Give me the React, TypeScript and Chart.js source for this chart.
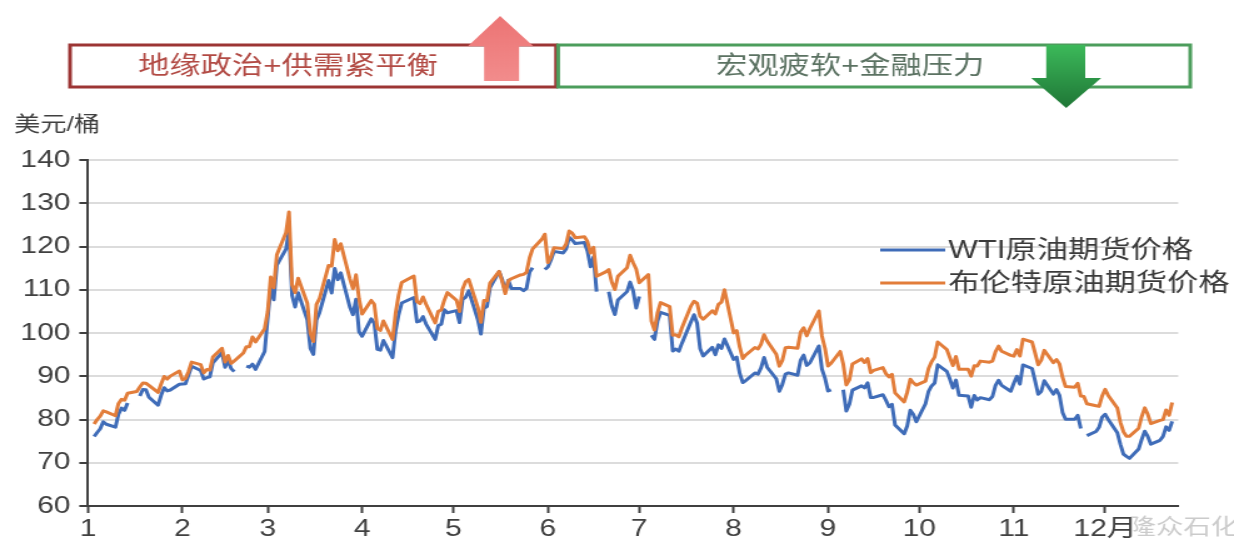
import React, { useEffect, useRef } from 'react';
import { Chart, registerables } from 'chart.js';

Chart.register(...registerables);

// ---------- data (2022, trading days) ----------
const dates: string[] = [
  '1/3','1/4','1/5','1/6','1/7','1/10','1/11','1/12','1/13','1/14','1/17','1/18','1/19','1/20','1/21','1/24','1/25','1/26','1/27','1/28','1/31',
  '2/1','2/2','2/3','2/4','2/7','2/8','2/9','2/10','2/11','2/14','2/15','2/16','2/17','2/18','2/21','2/22','2/23','2/24','2/25','2/28',
  '3/1','3/2','3/3','3/4','3/7','3/8','3/9','3/10','3/11','3/14','3/15','3/16','3/17','3/18','3/21','3/22','3/23','3/24','3/25','3/28','3/29','3/30','3/31',
  '4/1','4/4','4/5','4/6','4/7','4/8','4/11','4/12','4/13','4/14','4/18','4/19','4/20','4/21','4/22','4/25','4/26','4/27','4/28','4/29',
  '5/2','5/3','5/4','5/5','5/6','5/9','5/10','5/11','5/12','5/13','5/16','5/17','5/18','5/19','5/20','5/23','5/24','5/25','5/26','5/27','5/30','5/31',
  '6/1','6/2','6/3','6/6','6/7','6/8','6/9','6/10','6/13','6/14','6/15','6/16','6/17','6/20','6/21','6/22','6/23','6/24','6/27','6/28','6/29','6/30',
  '7/1','7/4','7/5','7/6','7/7','7/8','7/11','7/12','7/13','7/14','7/15','7/18','7/19','7/20','7/21','7/22','7/25','7/26','7/27','7/28','7/29',
  '8/1','8/2','8/3','8/4','8/5','8/8','8/9','8/10','8/11','8/12','8/15','8/16','8/17','8/18','8/19','8/22','8/23','8/24','8/25','8/26','8/29','8/30','8/31',
  '9/1','9/2','9/5','9/6','9/7','9/8','9/9','9/12','9/13','9/14','9/15','9/16','9/19','9/20','9/21','9/22','9/23','9/26','9/27','9/28','9/29','9/30',
  '10/3','10/4','10/5','10/6','10/7','10/10','10/11','10/12','10/13','10/14','10/17','10/18','10/19','10/20','10/21','10/24','10/25','10/26','10/27','10/28','10/31',
  '11/1','11/2','11/3','11/4','11/7','11/8','11/9','11/10','11/11','11/14','11/15','11/16','11/17','11/18','11/21','11/22','11/23','11/24','11/25','11/28','11/29','11/30',
  '12/1','12/2','12/5','12/6','12/7','12/8','12/9','12/12','12/13','12/14','12/15','12/16','12/19','12/20','12/21','12/22','12/23',
];

const wti: (number | null)[] = [
  76.08,76.99,77.85,79.46,78.90,78.23,81.22,82.64,82.12,83.82,null,85.43,86.96,86.90,85.14,83.31,85.60,87.35,86.61,86.82,88.15,
  88.20,88.26,90.27,92.31,91.32,89.36,89.66,89.88,93.10,95.46,92.07,93.66,91.76,91.07,null,92.35,92.10,92.81,91.59,95.72,
  103.41,110.60,107.67,115.68,119.40,123.70,108.70,106.02,109.33,103.01,96.44,95.04,102.98,104.70,112.12,109.27,114.93,112.34,113.90,105.96,104.24,107.82,100.28,
  99.27,103.28,102.28,96.23,96.03,98.26,94.29,100.60,104.25,106.95,108.21,102.56,102.75,103.79,102.07,98.54,101.70,102.02,105.36,104.69,
  105.17,102.41,107.81,108.26,109.77,103.09,99.76,105.71,106.13,110.49,114.20,112.40,109.59,112.21,110.28,110.29,109.77,110.33,114.09,115.07,null,114.67,
  115.26,116.87,118.87,118.50,119.41,122.11,121.51,120.67,120.93,118.93,115.31,117.59,109.56,null,109.52,106.19,104.27,107.62,109.57,111.76,109.78,105.76,
  108.43,null,99.50,98.53,102.73,104.79,104.09,95.84,96.30,95.78,97.59,102.60,104.22,102.26,96.35,94.70,96.70,94.98,97.26,96.42,98.62,
  93.89,94.42,90.66,88.54,89.01,90.76,90.50,91.93,94.34,92.09,89.41,86.53,88.11,90.50,90.77,90.23,93.74,94.89,92.52,93.06,97.01,91.64,89.55,
  86.61,86.87,null,86.88,81.94,83.54,86.79,87.78,87.31,88.48,85.10,85.11,85.73,84.45,82.94,83.49,78.74,76.71,78.50,82.15,81.23,79.49,
  83.63,86.52,87.76,88.45,92.64,91.13,89.35,87.27,89.11,85.61,85.46,82.82,85.55,84.51,85.05,84.58,85.32,87.91,89.08,87.90,86.53,
  88.37,90.00,88.17,92.61,91.79,88.91,85.83,86.47,88.96,85.87,86.92,85.59,81.64,80.08,80.04,80.95,77.94,null,76.28,77.24,78.20,80.55,
  81.22,79.98,76.93,74.25,72.01,71.46,71.02,73.17,75.39,77.28,76.11,74.29,75.19,76.09,78.29,77.49,79.56,
];

const brent: (number | null)[] = [
  78.98,80.00,80.80,81.99,81.75,80.87,83.72,84.67,84.47,86.06,86.48,87.51,88.44,88.38,87.89,86.27,88.20,89.96,89.34,90.03,91.21,
  89.16,89.47,91.11,93.27,92.69,90.78,91.55,91.41,94.44,96.48,93.28,94.81,92.97,93.54,95.39,96.84,96.84,99.08,97.93,100.99,
  104.97,112.93,110.46,118.11,123.21,127.98,111.14,109.33,112.67,106.90,99.91,98.02,106.64,107.93,115.62,115.48,121.60,119.03,120.65,112.48,110.23,113.45,107.91,
  104.39,107.53,106.64,101.07,100.58,102.78,98.48,104.64,108.78,111.70,113.16,107.25,106.80,108.33,106.65,102.32,104.99,105.32,107.59,109.34,
  107.58,104.97,110.14,111.90,112.39,105.94,102.46,107.51,107.45,111.55,114.24,111.93,109.11,112.04,112.55,113.42,113.56,114.03,117.40,119.43,121.67,122.84,
  116.29,117.61,119.72,119.51,120.57,123.58,123.07,122.01,122.27,121.17,118.51,119.81,113.12,114.13,114.65,111.74,110.05,113.12,115.09,117.98,116.26,114.81,
  111.63,113.50,102.77,100.69,104.65,107.02,106.10,99.49,99.57,99.10,101.16,106.27,107.35,106.92,103.86,103.20,105.15,104.40,106.62,107.14,110.01,
  100.03,100.54,96.78,94.12,94.92,96.65,96.31,97.40,99.60,98.15,95.10,92.34,93.65,96.59,96.72,96.48,100.22,101.22,99.34,100.99,105.09,99.31,96.49,
  92.36,93.02,95.74,92.83,88.00,89.15,92.84,94.00,93.17,94.10,90.84,91.35,92.00,90.62,89.83,90.46,86.15,84.06,86.27,89.32,88.49,87.96,
  88.86,91.80,93.37,94.42,97.92,96.19,94.29,92.45,94.57,91.63,91.62,90.03,92.41,92.38,93.50,93.26,93.52,95.69,96.96,95.77,94.83,
  94.65,96.16,94.67,98.57,97.92,95.36,92.65,93.67,95.99,93.14,93.86,92.86,89.78,87.62,87.45,88.36,85.41,85.34,83.63,83.19,83.03,85.43,
  86.97,85.57,82.68,79.35,77.17,76.15,76.10,77.99,80.68,82.70,81.21,79.04,79.80,79.99,82.20,80.98,83.92,
];

const monthLabels: string[] = ['1','2','3','4','5','6','7','8','9','10','11','12月'];
const seriesNames: string[] = ['WTI原油期货价格', '布伦特原油期货价格'];
const noteTexts: string[] = ['地缘政治+供需紧平衡', '宏观疲软+金融压力'];
const unitLabel = '美元/桶';
const watermark = '隆众石化';
const yMin = 60;
const yMax = 140;
const yStep = 10;
const YEAR = 2022;
const X_END_DAY = 359;

// ---------- helpers ----------
const dayOfYear = (s: string): number => {
  const [m, d] = s.split('/').map(Number);
  return Math.round((Date.UTC(YEAR, m - 1, d) - Date.UTC(YEAR, 0, 1)) / 86400000) + 1;
};
const monthStarts = monthLabels.map((_, i) => dayOfYear(`${i + 1}/1`));

const W = 1234;
const H = 544;
const S = 1.25; // horizontal stretch of the original picture
const CW = Math.round(W / S);
const X = (px: number) => px / S;

const BLUE = '#3f6cb8';
const ORANGE = '#e27d3a';
const AXIS = '#404040';
const FONT = '"Liberation Sans", "Noto Sans CJK SC", Arial, sans-serif';

const overlayPlugin = {
  id: 'overlay',
  afterDraw(chart: any) {
    const ctx: CanvasRenderingContext2D = chart.ctx;
    ctx.save();

    // unit label
    ctx.fillStyle = AXIS;
    ctx.font = `21px ${FONT}`;
    ctx.textAlign = 'left';
    ctx.textBaseline = 'middle';
    ctx.fillText(unitLabel, X(14), 125);

    // red box
    ctx.lineWidth = 3;
    ctx.fillStyle = '#ffffff';
    ctx.fillRect(X(70), 45, X(556) - X(70), 42);
    ctx.strokeStyle = '#9c3534';
    ctx.strokeRect(X(70), 45, X(556) - X(70), 42);
    ctx.fillStyle = '#b24a44';
    ctx.font = `25px ${FONT}`;
    ctx.textAlign = 'center';
    ctx.fillText(noteTexts[0], X(288), 67);

    // green box
    ctx.fillStyle = '#ffffff';
    ctx.fillRect(X(558), 45, X(1190) - X(558), 42);
    ctx.strokeStyle = '#4c9d5c';
    ctx.strokeRect(X(558), 45, X(1190) - X(558), 42);
    ctx.fillStyle = '#5b7262';
    ctx.fillText(noteTexts[1], X(850), 67);

    // up arrow (pink)
    ctx.beginPath();
    ctx.moveTo(X(500), 16);
    ctx.lineTo(X(533), 46);
    ctx.lineTo(X(519), 46);
    ctx.lineTo(X(519), 81);
    ctx.lineTo(X(484), 81);
    ctx.lineTo(X(484), 46);
    ctx.lineTo(X(468), 46);
    ctx.closePath();
    const gUp = ctx.createLinearGradient(0, 16, 0, 81);
    gUp.addColorStop(0, '#ec7474');
    gUp.addColorStop(1, '#f28c8c');
    ctx.fillStyle = gUp;
    ctx.fill();

    // down arrow (green)
    ctx.beginPath();
    ctx.moveTo(X(1046), 45);
    ctx.lineTo(X(1085), 45);
    ctx.lineTo(X(1085), 78);
    ctx.lineTo(X(1101), 78);
    ctx.lineTo(X(1066), 108);
    ctx.lineTo(X(1031), 78);
    ctx.lineTo(X(1046), 78);
    ctx.closePath();
    const gDn = ctx.createLinearGradient(0, 45, 0, 108);
    gDn.addColorStop(0, '#3cb95a');
    gDn.addColorStop(1, '#1f7636');
    ctx.fillStyle = gDn;
    ctx.fill();

    // legend
    const rows = [
      { name: seriesNames[0], color: BLUE, y: 250 },
      { name: seriesNames[1], color: ORANGE, y: 283 },
    ];
    ctx.font = `25px ${FONT}`;
    ctx.textAlign = 'left';
    rows.forEach((r) => {
      ctx.strokeStyle = r.color;
      ctx.lineWidth = 3;
      ctx.beginPath();
      ctx.moveTo(X(880), r.y);
      ctx.lineTo(X(945), r.y);
      ctx.stroke();
      ctx.fillStyle = '#3a3a3a';
      ctx.fillText(r.name, X(948), r.y + 1);
    });

    // watermark
    ctx.font = `22px ${FONT}`;
    ctx.fillStyle = 'rgba(140,140,140,0.45)';
    ctx.fillText(watermark, X(1128), 528);

    ctx.restore();
  },
};

export default function App() {
  const ref = useRef<HTMLCanvasElement>(null);

  useEffect(() => {
    const canvas = ref.current;
    if (!canvas) return;
    const toPoints = (vals: (number | null)[]) =>
      dates.map((d, i) => ({ x: dayOfYear(d), y: vals[i] }));

    const chart = new Chart(canvas, {
      type: 'line',
      data: {
        datasets: [
          {
            label: seriesNames[0],
            data: toPoints(wti) as any,
            borderColor: BLUE,
            backgroundColor: BLUE,
            borderWidth: 3,
            pointRadius: 0,
            spanGaps: false,
            tension: 0,
            borderJoinStyle: 'round',
            order: 1,
          },
          {
            label: seriesNames[1],
            data: toPoints(brent) as any,
            borderColor: ORANGE,
            backgroundColor: ORANGE,
            borderWidth: 3,
            pointRadius: 0,
            spanGaps: false,
            tension: 0,
            borderJoinStyle: 'round',
            order: 0,
          },
        ],
      },
      options: {
        animation: false,
        responsive: false,
        devicePixelRatio: 1,
        events: [],
        layout: { padding: { left: 0, right: CW - X(1178), top: 160, bottom: 0 } },
        plugins: { legend: { display: false }, tooltip: { enabled: false }, title: { display: false } },
        scales: {
          x: {
            type: 'linear',
            min: 1,
            max: X_END_DAY,
            afterBuildTicks: (scale: any) => {
              scale.ticks = monthStarts.map((v) => ({ value: v }));
            },
            ticks: {
              autoSkip: false,
              maxRotation: 0,
              padding: 2,
              color: AXIS,
              font: { family: FONT, size: 24 },
              callback: (v: any) => {
                const i = monthStarts.indexOf(Number(v));
                return i >= 0 ? monthLabels[i] : '';
              },
            },
            grid: { drawOnChartArea: false, drawTicks: true, tickLength: 7, tickColor: AXIS, tickWidth: 2 },
            border: { display: true, color: AXIS, width: 2 },
            afterFit: (scale: any) => {
              scale.height = H - 506;
            },
          },
          y: {
            min: yMin,
            max: yMax,
            ticks: { stepSize: yStep, padding: 7, color: AXIS, font: { family: FONT, size: 24 } },
            grid: { color: '#dcdcdc', lineWidth: 2, drawTicks: true, tickLength: 7, tickColor: AXIS, tickWidth: 2 },
            border: { display: true, color: AXIS, width: 2 },
            afterFit: (scale: any) => {
              scale.width = X(88);
            },
          },
        },
      },
      plugins: [overlayPlugin],
    } as any);

    return () => chart.destroy();
  }, []);

  return (
    <div style={{ position: 'fixed', left: 0, top: 0, width: W, height: H, background: '#fff', overflow: 'hidden' }}>
      <canvas
        ref={ref}
        width={CW}
        height={H}
        style={{ display: 'block', width: `${W}px`, height: `${H}px` }}
      />
    </div>
  );
}
